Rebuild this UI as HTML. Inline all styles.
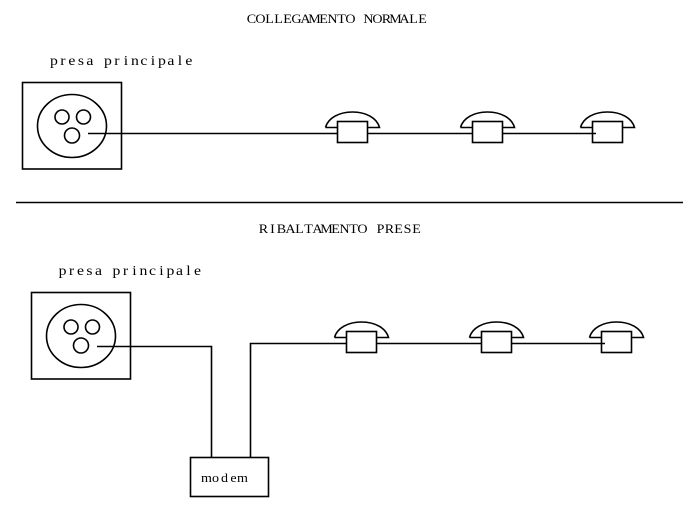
<!DOCTYPE html>
<html>
<head>
<meta charset="utf-8">
<style>
html,body{margin:0;padding:0;background:#fff;width:699px;height:513px;overflow:hidden}
svg{display:block}
text{font-family:"Liberation Serif",serif;font-size:12.5px;fill:#000;text-anchor:middle}
text.l{font-size:14px}
.s{fill:none;stroke:#000;stroke-width:1.6}
</style>
</head>
<body>
<svg width="699" height="513" viewBox="0 0 699 513" xmlns="http://www.w3.org/2000/svg">
<rect width="699" height="513" fill="#fff"/>

<text transform="scale(1.125 1)" y="23" x="223.56 231.56 239.56 247.56 255.56 263.56 271.56 279.56 287.56 295.56 303.56 311.56 319.56 327.56 335.56 343.56 351.56 359.56 367.56 375.56">COLLEGAMENTO NORMALE</text>
<text class="l" transform="scale(1.125 1)" y="65" x="47.94 55.94 63.94 71.94 79.94 87.94 95.94 103.94 111.94 119.94 127.94 135.94 143.94 151.94 159.94 167.94">presa principale</text>

<rect class="s" x="22.5" y="82.5" width="99" height="86.5"/>
<ellipse class="s" cx="72" cy="126" rx="34.5" ry="31.5"/>
<circle class="s" cx="62" cy="117" r="7"/>
<circle class="s" cx="83.5" cy="117" r="7"/>
<circle class="s" cx="72" cy="135.5" r="7.5"/>
<path class="s" d="M88 133.5H337.5M367.5 133.5H472.5M502.5 133.5H596"/>

<path class="s" d="M325.5 127.5H337.5M367.5 127.5H379.5C377 118 366 112 352.5 112C339 112 328 118 325.5 127.5"/>
<rect class="s" x="337.5" y="121.5" width="30" height="21"/>
<path class="s" d="M460.5 127.5H472.5M502.5 127.5H514.5C512 118 501 112 487.5 112C474 112 463 118 460.5 127.5"/>
<rect class="s" x="472.5" y="121.5" width="30" height="21"/>
<path class="s" d="M580.5 127.5H592.5M622.5 127.5H634.5C632 118 621 112 607.5 112C594 112 583 118 580.5 127.5"/>
<rect class="s" x="592.5" y="121.5" width="30" height="21"/>

<path class="s" d="M16 202.5H683"/>

<text transform="scale(1.125 1)" y="233" x="234.22 242.22 250.22 258.22 266.22 274.22 282.22 290.22 298.22 306.22 314.22 322.22 330.22 338.22 346.22 354.22 362.22 370.22">RIBALTAMENTO PRESE</text>
<text class="l" transform="scale(1.125 1)" y="275" x="55.56 63.56 71.56 79.56 87.56 95.56 103.56 111.56 119.56 127.56 135.56 143.56 151.56 159.56 167.56 175.56">presa principale</text>

<rect class="s" x="31.5" y="292.5" width="99" height="86.5"/>
<ellipse class="s" cx="81" cy="336" rx="34.5" ry="31.5"/>
<circle class="s" cx="71" cy="327" r="7"/>
<circle class="s" cx="92.5" cy="327" r="7"/>
<circle class="s" cx="81" cy="345.5" r="7.5"/>
<path class="s" d="M97 346.5H211.5V457.5M250.5 457.5V343.5H346.5M376.5 343.5H481.5M511.5 343.5H605"/>

<path class="s" d="M334.5 337.5H346.5M376.5 337.5H388.5C386 328 375 322 361.5 322C348 322 337 328 334.5 337.5"/>
<rect class="s" x="346.5" y="331.5" width="30" height="21"/>
<path class="s" d="M469.5 337.5H481.5M511.5 337.5H523.5C521 328 510 322 496.5 322C483 322 472 328 469.5 337.5"/>
<rect class="s" x="481.5" y="331.5" width="30" height="21"/>
<path class="s" d="M589.5 337.5H601.5M631.5 337.5H643.5C641 328 630 322 616.5 322C603 322 592 328 589.5 337.5"/>
<rect class="s" x="601.5" y="331.5" width="30" height="21"/>

<rect class="s" x="190.5" y="457.5" width="78" height="39"/>
<text transform="scale(1.125 1)" y="482" x="183.56 191.56 199.56 207.56 215.56">modem</text>
</svg>
</body>
</html>
